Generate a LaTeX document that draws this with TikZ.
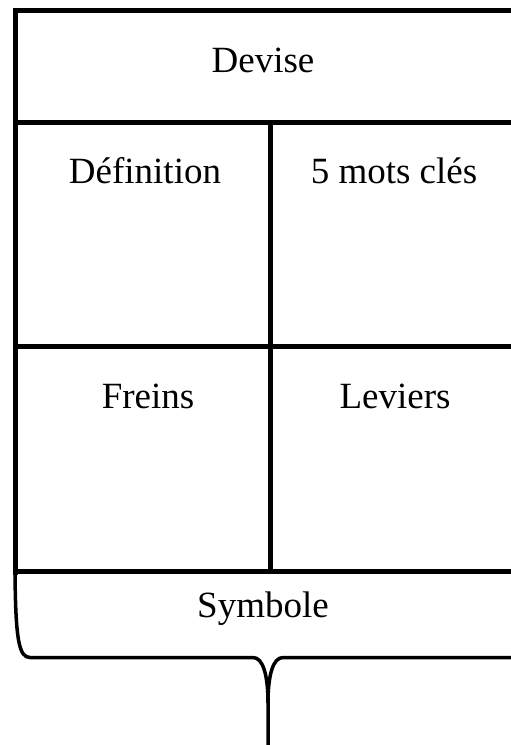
\documentclass[tikz,border=0pt]{standalone}
\usepackage{fontspec}
\setmainfont{Liberation Serif}
\usepackage{tikz}
\usetikzlibrary{calc}
\tikzset{
  gridline/.style={line width=5pt,color=black,line cap=rect},
  braceline/.style={line width=3.5pt,color=black},
  celllabel/.style={anchor=base,inner sep=0pt,font=\fontsize{37}{40}\selectfont},
}

\begin{document}
\begin{tikzpicture}[x=1pt,y=-1pt]
  \useasboundingbox (0,0) rectangle (511,745);

  % table frame and rows
  \draw[gridline] (15,572) -- (15,10.5) -- (515,10.5);
  \draw[gridline] (15,122.5) -- (515,122.5);
  \draw[gridline] (15,346) -- (515,346);
  \draw[gridline] (15,571) -- (515,571);
  \draw[gridline] (270.5,122.5) -- (270.5,571);

  % brace under the symbol row
  \coordinate (tip) at (268,703);
  \draw[braceline] (15,571) .. controls (15.5,640) and (19,657.5) .. (30,657.5)
    -- (253,657.5) .. controls (263,657.5) and (268,675) .. (tip) -- (268,746);
  \draw[braceline] (tip) .. controls (268,675) and (273,657.5) .. (283,657.5) -- (515,657.5);

  % cell labels
  \node[celllabel] (devise) at (263,72) {Devise};
  \node[celllabel] (defi) at (145,183) {Définition};
  \node[celllabel] (mots) at (394,183) {5 mots clés};
  \node[celllabel] (freins) at (148,408) {Freins};
  \node[celllabel] (leviers) at (395,408) {Leviers};
  \node[celllabel] (symb) at (263,617) {Symbole};
\end{tikzpicture}
\end{document}
